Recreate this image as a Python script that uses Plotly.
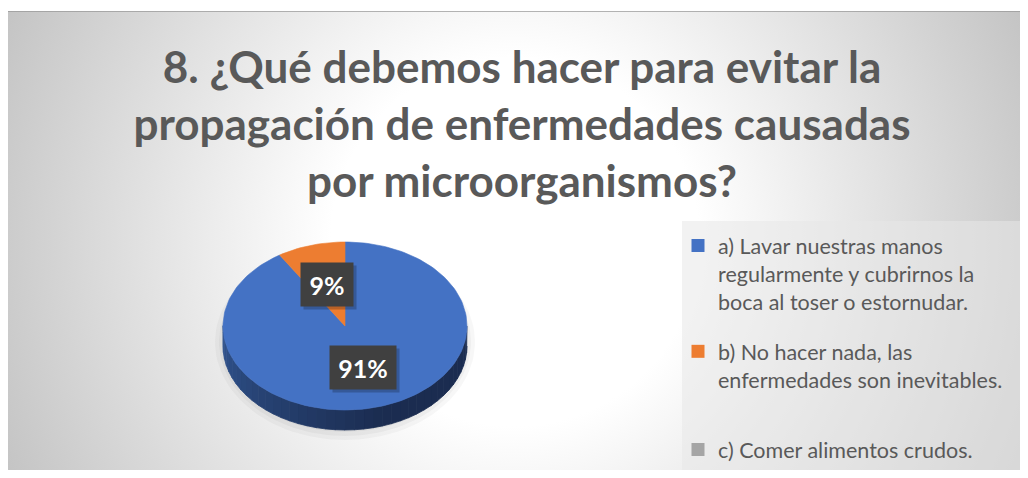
import base64
import numpy as np
import plotly.graph_objects as go

# ---------------- data ----------------
categories = [
    "a) Lavar nuestras manos regularmente y cubrirnos la boca al toser o estornudar.",
    "b) No hacer nada, las enfermedades son inevitables.",
    "c) Comer alimentos crudos.",
]
legend_labels = [
    "a) Lavar nuestras manos<br>regularmente y cubrirnos la<br>boca al toser o estornudar.",
    "b) No hacer nada, las<br>enfermedades son inevitables.",
    "c) Comer alimentos crudos.",
]
values = [91, 9, 0]
colors = ["#4472C4", "#ED7D31", "#A5A5A5"]
title_text = ("8. ¿Qué debemos hacer para evitar la<br>"
              "propagación de enfermedades causadas<br>"
              "por microorganismos?")

# ---------------- geometry / style ----------------
# the page body has an 8px margin: the figure occupies page px 8..1020 x 8..470
OFF = 8
W, H = 1012, 462
CX, CY, RX, RY, DEPTH = 345, 326, 122, 84, 20
FONT = "Lato"

def paper_x(px):
    return (px - OFF) / W

def paper_y(py):
    return 1 - (py - OFF) / H

def pt(theta, dy=0.0):
    return CX + RX * np.sin(theta), CY - RY * np.cos(theta) + dy

def mix(c1, c2, t):
    a = [int(c1[i:i + 2], 16) for i in (1, 3, 5)]
    b = [int(c2[i:i + 2], 16) for i in (1, 3, 5)]
    return "rgb(%d,%d,%d)" % tuple(round(a[k] + (b[k] - a[k]) * t) for k in range(3))

side_dark = {"#4472C4": ("#1B2C50", "#30548F"), "#ED7D31": ("#8A4416", "#B05A20"),
             "#A5A5A5": ("#5E5E5E", "#7A7A7A")}

total = float(sum(values))
fig = go.Figure()

# soft shadow under the pie
for k, a in enumerate([0.03, 0.035, 0.04]):
    th = np.linspace(0, 2 * np.pi, 120)
    sx = CX + (RX + 8 - 4 * k) * np.sin(th)
    sy = CY + 16 + (RY + 14 - 4 * k) * np.cos(th)
    fig.add_trace(go.Scatter(x=sx, y=sy, fill="toself", mode="lines", line=dict(width=0),
                             fillcolor="rgba(0,0,0,%.3f)" % a, showlegend=False, hoverinfo="skip"))

# slices: start angles (clockwise from 12 o'clock)
starts = []
acc = 0.0
for v in values:
    starts.append(acc)
    acc += v / total * 2 * np.pi

# 3D side walls (front half only)
for v, c, a0 in zip(values, colors, starts):
    if v <= 0:
        continue
    a1 = a0 + v / total * 2 * np.pi
    lo, hi = max(a0, np.pi / 2), min(a1, 3 * np.pi / 2)
    if hi <= lo:
        continue
    edges = np.linspace(lo, hi, 41)
    dark, light = side_dark[c]
    for j in range(len(edges) - 1):
        th = np.linspace(edges[j], edges[j + 1] + 0.004, 4)
        tx, ty = pt(th)
        bx, by = pt(th[::-1], DEPTH)
        t = ((edges[j] + edges[j + 1]) / 2 - np.pi / 2) / np.pi
        t = max(0.0, (t - 0.4) / 0.6)
        col = mix(dark, light, t)
        fig.add_trace(go.Scatter(x=np.r_[tx, bx], y=np.r_[ty, by], fill="toself", mode="lines",
                                 line=dict(width=0.8, color=col), fillcolor=col,
                                 showlegend=False, hoverinfo="skip"))

# top faces
for name, v, c, a0 in zip(categories, values, colors, starts):
    if v <= 0:
        continue
    a1 = a0 + v / total * 2 * np.pi
    th = np.linspace(a0, a1, max(4, int(200 * v / total)))
    ax, ay = pt(th)
    fig.add_trace(go.Scatter(x=np.r_[CX, ax, CX], y=np.r_[CY, ay, CY], fill="toself",
                             mode="lines", line=dict(width=0.6, color=c), fillcolor=c,
                             name=name, showlegend=False, hoverinfo="name"))

# legend entries: a and b in the first legend, c in a second one lower down
legend_ids = ["legend", "legend", "legend2"]
for i, (lab, c, lg) in enumerate(zip(legend_labels, colors, legend_ids)):
    fig.add_trace(go.Scatter(x=[None], y=[None], mode="markers", name=lab,
                             legendgroup=str(i), legend=lg,
                             marker=dict(symbol="square", size=13, color=c)))

# data labels
annotations = []
for v, a0 in zip(values, starts):
    if v <= 0:
        continue
    mid = a0 + v / total * np.pi
    lx, ly = CX + 0.52 * RX * np.sin(mid), CY - 0.52 * RY * np.cos(mid)
    txt = "%d%%" % round(v / total * 100)
    bw = 22 + 14 * len(txt)
    annotations.append(dict(x=lx + 3, y=ly + 3, xref="x", yref="y", text=" ",
                            showarrow=False, width=bw, height=41,
                            bgcolor="rgba(0,0,0,0.22)", font=dict(size=24)))
    annotations.append(dict(x=lx, y=ly, xref="x", yref="y", text="<b>%s</b>" % txt,
                            showarrow=False, width=bw, height=41, bgcolor="#404040",
                            font=dict(family=FONT, size=25, color="white")))

# background: radial gradient image (chart area page px 8..1020 x 11..470)
svg = ('<svg xmlns="http://www.w3.org/2000/svg" width="1012" height="459">'
       '<defs><radialGradient id="g" gradientUnits="userSpaceOnUse" cx="507" cy="231" r="558">'
       '<stop offset="0.33" stop-color="#ffffff"/><stop offset="1" stop-color="#c4c4c4"/>'
       '</radialGradient></defs><rect width="1012" height="459" fill="url(#g)"/></svg>')
src = "data:image/svg+xml;base64," + base64.b64encode(svg.encode()).decode()

legend_font = dict(family=FONT, size=21.5, color="#595959")

fig.update_layout(
    width=W, height=H,
    margin=dict(l=0, r=0, t=0, b=0),
    paper_bgcolor="white", plot_bgcolor="rgba(0,0,0,0)",
    xaxis=dict(range=[OFF, OFF + W], visible=False, fixedrange=True),
    yaxis=dict(range=[OFF + H, OFF], visible=False, fixedrange=True),
    images=[dict(source=src, xref="paper", yref="paper", x=paper_x(8), y=paper_y(11),
                 sizex=1012 / W, sizey=459 / H, sizing="stretch", layer="below",
                 xanchor="left", yanchor="top")],
    shapes=[
        dict(type="line", xref="x", yref="y", x0=8, x1=1020, y0=11.5, y1=11.5,
             line=dict(color="rgba(150,150,150,0.7)", width=1), layer="below"),
        dict(type="rect", xref="x", yref="y", x0=682, x1=1020, y0=221, y1=470,
             fillcolor="rgba(232,232,232,0.55)", line=dict(width=0), layer="below"),
    ],
    title=dict(text="<b>%s</b>" % title_text, x=paper_x(522), xanchor="center",
               y=1 - 75 / H, yanchor="top",
               font=dict(family=FONT, size=44, color="#595959")),
    legend=dict(x=paper_x(678), y=paper_y(225), xanchor="left", yanchor="top",
                bgcolor="rgba(0,0,0,0)", font=legend_font,
                valign="top", traceorder="grouped", tracegroupgap=19),
    legend2=dict(x=paper_x(678), y=0, xanchor="left", yanchor="bottom",
                 bgcolor="rgba(0,0,0,0)", font=legend_font, valign="top"),
    annotations=annotations,
    showlegend=True,
)

fig.write_html("out.html")
